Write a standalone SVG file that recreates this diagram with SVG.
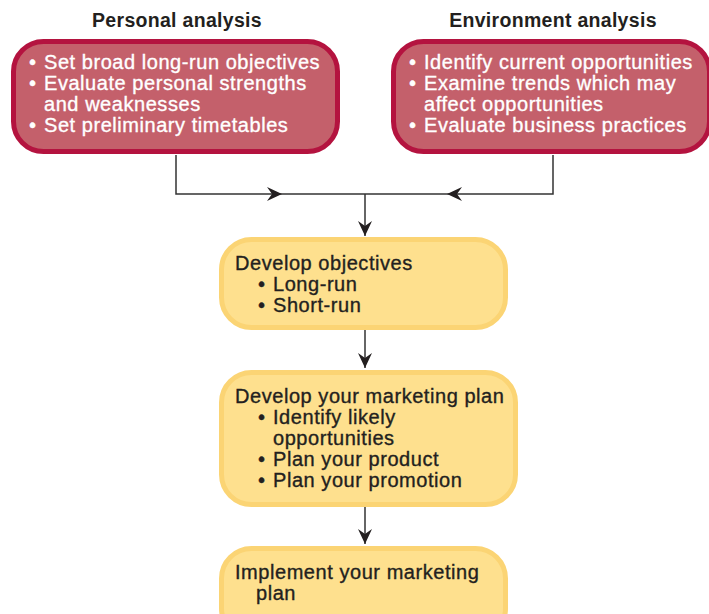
<svg xmlns="http://www.w3.org/2000/svg" width="709" height="614" viewBox="0 0 709 614">
<defs>
<style>
.head{font-family:"Liberation Sans",Arial,sans-serif;font-weight:bold;font-size:19.5px;letter-spacing:0.3px;fill:#231f20;text-anchor:middle}
.wt{font-family:"Liberation Sans",Arial,sans-serif;font-size:20px;letter-spacing:0.55px;fill:#ffffff;stroke:#ffffff;stroke-width:0.35px}
.dk{font-family:"Liberation Sans",Arial,sans-serif;font-size:20px;letter-spacing:0.55px;fill:#231f20;stroke:#231f20;stroke-width:0.35px}
.red{fill:#c4606b;stroke:#b4133f;stroke-width:5}
.yel{fill:#fee08e;stroke:#fbd474;stroke-width:5}
.ln{fill:none;stroke:#333333;stroke-width:1.5}
</style>
<marker id="ah" markerUnits="userSpaceOnUse" markerWidth="16" markerHeight="14" viewBox="0 0 16 14" refX="15" refY="7" orient="auto">
<path d="M0,0 L15,7 L0,14 L5,7 z" fill="#231f20"/>
</marker>
</defs>
<rect width="709" height="614" fill="#ffffff"/>

<g id="connectors">
<path class="ln" d="M176,155 V194 H282" marker-end="url(#ah)"/>
<path class="ln" d="M553,155 V194 H447" marker-end="url(#ah)"/>
<path class="ln" d="M282,194 H447"/>
<path class="ln" d="M365,194 V236" marker-end="url(#ah)"/>
<path class="ln" d="M365,330 V368" marker-end="url(#ah)"/>
<path class="ln" d="M365,507 V544" marker-end="url(#ah)"/>
</g>

<g id="personal">
<text class="head" x="177" y="27">Personal analysis</text>
<rect class="red" x="13.5" y="41.5" width="324" height="110" rx="30"/>
<text class="wt" x="29" y="69">•</text><text class="wt" x="44" y="69">Set broad long-run objectives</text>
<text class="wt" x="29" y="90">•</text><text class="wt" x="44" y="90">Evaluate personal strengths</text>
<text class="wt" x="44" y="111">and weaknesses</text>
<text class="wt" x="29" y="132">•</text><text class="wt" x="44" y="132">Set preliminary timetables</text>
</g>

<g id="environment">
<text class="head" x="553" y="27">Environment analysis</text>
<rect class="red" x="393.5" y="41.5" width="316" height="110" rx="30"/>
<text class="wt" x="409" y="69">•</text><text class="wt" x="424" y="69">Identify current opportunities</text>
<text class="wt" x="409" y="90">•</text><text class="wt" x="424" y="90">Examine trends which may</text>
<text class="wt" x="424" y="111">affect opportunities</text>
<text class="wt" x="409" y="132">•</text><text class="wt" x="424" y="132">Evaluate business practices</text>
</g>

<g id="objectives">
<rect class="yel" x="221.5" y="239.5" width="284" height="88" rx="30"/>
<text class="dk" x="235" y="270">Develop objectives</text>
<text class="dk" x="258" y="291">•</text><text class="dk" x="273" y="291">Long-run</text>
<text class="dk" x="258" y="312">•</text><text class="dk" x="273" y="312">Short-run</text>
</g>

<g id="plan">
<rect class="yel" x="221.5" y="372.5" width="294" height="132" rx="30"/>
<text class="dk" x="235" y="403">Develop your marketing plan</text>
<text class="dk" x="258" y="424">•</text><text class="dk" x="273" y="424">Identify likely</text>
<text class="dk" x="273" y="445">opportunities</text>
<text class="dk" x="258" y="466">•</text><text class="dk" x="273" y="466">Plan your product</text>
<text class="dk" x="258" y="487">•</text><text class="dk" x="273" y="487">Plan your promotion</text>
</g>

<g id="implement">
<rect class="yel" x="221.5" y="548.5" width="284" height="90" rx="30"/>
<text class="dk" x="235" y="579">Implement your marketing</text>
<text class="dk" x="256" y="600">plan</text>
</g>
</svg>
